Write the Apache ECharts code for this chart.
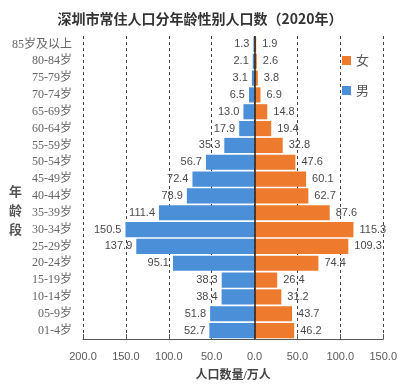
<!DOCTYPE html>
<html><head><meta charset="utf-8">
<script src="https://cdn.jsdelivr.net/npm/echarts@6/dist/echarts.min.js"></script>
<style>html,body{margin:0;padding:0;background:#fff}#c{width:400px;height:387px}</style>
</head><body><div id="c"></div>
<script>
const categories = ['01-4岁','05-9岁','10-14岁','15-19岁','20-24岁','25-29岁','30-34岁','35-39岁','40-44岁','45-49岁','50-54岁','55-59岁','60-64岁','65-69岁','70-74岁','75-79岁','80-84岁','85岁及以上'];
const male = [52.7,51.8,38.4,38.3,95.1,137.9,150.5,111.4,78.9,72.4,56.7,35.3,17.9,13.0,6.5,3.1,2.1,1.3];
const female = [46.2,43.7,31.2,26.4,74.4,109.3,115.3,87.6,62.7,60.1,47.6,32.8,19.4,14.8,6.9,3.8,2.6,1.9];
const xTicks = {min:-200, max:150, interval:50};

const chart = echarts.init(document.getElementById('c'));
const cjk = '"Noto Sans CJK SC", sans-serif';
const serif = '"Liberation Serif", "DejaVu Serif", "Noto Sans CJK SC", serif';
chart.setOption({
  animation:false,
  title:[{text:'深圳市常住人口分年龄性别人口数（2020年）', left:'center', top:7,
    textStyle:{fontFamily:cjk, fontSize:14, fontWeight:'bold', color:'#333'}},
    {text:'年\n龄\n段', left:4, top:178, textStyle:{fontFamily:serif, fontSize:13, fontWeight:'bold', color:'#555', lineHeight:19}}],
  legend:{orient:'vertical', left:337, top:49, itemWidth:9, itemHeight:9, itemGap:17,
    data:['女','男'], icon:'rect', textStyle:{fontFamily:cjk, fontSize:13, color:'#555'}},
  grid:{left:83, right:15, top:36, bottom:39},
  xAxis:{type:'value', min:xTicks.min, max:xTicks.max, interval:xTicks.interval,
    name:'人口数量/万人', nameLocation:'middle', nameGap:31,
    nameTextStyle:{fontFamily:serif, fontSize:12, fontWeight:'bold', color:'#444'},
    axisLine:{show:true, lineStyle:{color:'#555', width:1.2}},
    axisTick:{show:true, inside:true, length:5, lineStyle:{color:'#555'}},
    axisLabel:{formatter:v=>Math.abs(v).toFixed(1), fontFamily:'"Liberation Sans", sans-serif', fontSize:11, color:'#595959', margin:12},
    splitLine:{show:true, lineStyle:{type:[3,3], color:'#444', width:1}}},
  yAxis:{type:'category', data:categories,
    axisLine:{show:false, onZero:false}, axisTick:{show:false},
    axisLabel:{fontFamily:serif, fontSize:12, color:'#666', margin:11}},
  series:[
    {name:'男', type:'bar', data:male.map(v=>-v), barCategoryGap:'10%', barGap:'-100%',
      itemStyle:{color:'#4A8FD8'},
      label:{show:true, position:'left', formatter:p=>Math.abs(p.value).toFixed(1), fontFamily:'"Liberation Sans", sans-serif', fontSize:11, color:'#4a4a4a', distance:4},
      markLine:{silent:true, symbol:'none', label:{show:false}, lineStyle:{type:'solid', color:'#222', width:1.5}, data:[{xAxis:0}]}},
    {name:'女', type:'bar', data:female, barCategoryGap:'10%', barGap:'-100%',
      itemStyle:{color:'#EE7A2D'},
      label:{show:true, position:'right', formatter:p=>p.value.toFixed(1), fontFamily:'"Liberation Sans", sans-serif', fontSize:11, color:'#4a4a4a', distance:6}}
  ]
});
</script></body></html>
